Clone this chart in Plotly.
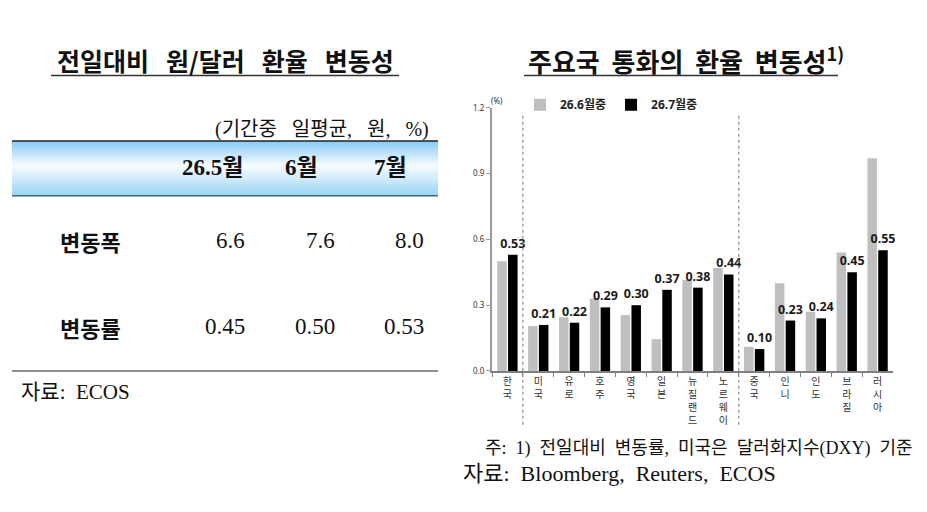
import plotly.graph_objects as go

W, H = 927, 512

# ---------------- data ----------------
countries = ["한국", "미국", "유로", "호주", "영국", "일본", "뉴질랜드", "노르웨이",
             "중국", "인니", "인도", "브라질", "러시아"]
jun_vals = [0.50, 0.205, 0.245, 0.33, 0.255, 0.145, 0.415, 0.47,
            0.11, 0.40, 0.27, 0.54, 0.97]
jul_vals = [0.53, 0.21, 0.22, 0.29, 0.30, 0.37, 0.38, 0.44,
            0.10, 0.23, 0.24, 0.45, 0.55]
series_names = ["26.6월중", "26.7월중"]
y_ticks = [0.0, 0.3, 0.6, 0.9, 1.2]
group_breaks = [0.5, 7.5]

table_title = "전일대비 원/달러 환율 변동성"
table_unit = "(기간중 일평균, 원, %)"
table_cols = ["26.5월", "6월", "7월"]
table_rows = ["변동폭", "변동률"]
row_width = ["6.6", "7.6", "8.0"]
row_rate = ["0.45", "0.50", "0.53"]
table_source = "자료: ECOS"

chart_title = "주요국 통화의 환율 변동성"
chart_note = "주: 1) 전일대비 변동률, 미국은 달러화지수(DXY) 기준"
chart_source = "자료: Bloomberg, Reuters, ECOS"

# ---------------- helpers ----------------
def X(px):
    return px / W

def Y(py):
    return 1 - py / H

NB = "\u00a0"

def wide(s, n=2):
    return s.replace(" ", NB * n)

SANS = "Noto Sans CJK KR"
SERIF = "Liberation Serif, Noto Sans CJK KR"
CHART = "Noto Sans, Noto Sans CJK KR"

def stack(label):
    return "<br>".join(list(label))

fig = go.Figure()
fig.add_trace(go.Bar(x=countries, y=jun_vals, name=series_names[0],
                     marker=dict(color="#bfbfbf", line=dict(width=0))))
fig.add_trace(go.Bar(x=countries, y=jul_vals, name=series_names[1],
                     marker=dict(color="#000000", line=dict(width=0)),
                     texttemplate="%{y:.2f}", textposition="outside", constraintext="none",
                     textfont=dict(family=CHART, size=12.5, color="#1a1a1a", weight="bold"),
                     cliponaxis=False))

shapes = []
annotations = []

def note(px, py, text, font, anchor="center"):
    annotations.append(dict(x=X(px), y=Y(py), xref="paper", yref="paper", text=text,
                            showarrow=False, font=font, xanchor=anchor, yanchor="middle"))

def hline(x0, x1, py, color="#222", width=1.0):
    shapes.append(dict(type="line", xref="paper", yref="paper", x0=X(x0), x1=X(x1),
                       y0=Y(py), y1=Y(py), line=dict(color=color, width=width)))

# ---- left table ----
note(225, 55, "<b>" + wide(table_title, 3) + "</b>", dict(family=SANS, size=25, color="#111"))
hline(51, 399, 71, "#333", 1.5)
note(431, 126, wide(table_unit, 3), dict(family=SERIF, size=20, color="#111"), "right")

# header gradient band
top_y, bot_y = 138, 194
n = 28
c_top = (135, 203, 245)
c_mid = (248, 252, 255)
c_bot = (150, 212, 247)
for i in range(n):
    t = (i + 0.5) / n
    if t < 0.45:
        u = t / 0.45
        c = [round(c_top[k] + (c_mid[k] - c_top[k]) * u) for k in range(3)]
    else:
        u = (t - 0.45) / 0.55
        c = [round(c_mid[k] + (c_bot[k] - c_mid[k]) * u) for k in range(3)]
    y0 = top_y + (bot_y - top_y) * i / n
    y1 = top_y + (bot_y - top_y) * (i + 1) / n + 0.6
    shapes.append(dict(type="rect", xref="paper", yref="paper", x0=X(12), x1=X(438),
                       y0=Y(y0), y1=Y(y1), fillcolor="rgb(%d,%d,%d)" % tuple(c),
                       line=dict(width=0), layer="below"))
hline(12, 438, 138, "#222", 1.5)
hline(12, 438, 194, "#333", 1.0)
hline(12, 438, 373, "#222", 1.0)

col_head_x = [212, 301, 390]
col_val_right = [247, 337, 426]
for cx, lab in zip(col_head_x, table_cols):
    note(cx, 165, "<b>" + lab + "</b>", dict(family=SERIF, size=23, color="#111"))
row_y = [240, 328]
for ry, rlab, vals in zip(row_y, table_rows, [row_width, row_rate]):
    note(90, ry, "<b>" + rlab + "</b>", dict(family=SANS, size=22, color="#111"))
    for rx, v in zip(col_val_right, vals):
        note(rx, ry, v, dict(family=SERIF, size=23, color="#111"), "right")
note(19, 394, wide(table_source), dict(family=SERIF, size=21, color="#111"), "left")

# ---- right chart text ----
note(686, 55, "<b>" + wide(chart_title, 2) + "<sup>1)</sup></b>", dict(family=SANS, size=26, color="#111"))
hline(524, 838, 71, "#333", 1.5)
note(489, 97, "(%)", dict(family=CHART, size=8, color="#333"), "left")
note(483, 452, wide(chart_note), dict(family=SERIF, size=18, color="#111"), "left")
note(461, 478, wide(chart_source, 2), dict(family=SERIF, size=22, color="#111"), "left")

# group separators
for b in group_breaks:
    shapes.append(dict(type="line", xref="x", yref="paper", x0=b, x1=b, y0=Y(428), y1=Y(110),
                       line=dict(color="#8c8c8c", width=1.2, dash="dot")))

fig.update_layout(
    width=W, height=H,
    margin=dict(l=0, r=0, t=0, b=0),
    paper_bgcolor="white", plot_bgcolor="white",
    barmode="group", bargap=0.3, bargroupgap=0.12,
    showlegend=True,
    legend=dict(orientation="h", x=X(520), y=Y(86), xanchor="left", yanchor="top",
                font=dict(family=CHART, size=12, color="#222", weight="bold"),
                itemwidth=30, tracegroupgap=0, bgcolor="rgba(0,0,0,0)"),
    xaxis=dict(domain=[X(492), X(893)], range=[-0.5, len(countries) - 0.5],
               tickmode="array", tickvals=countries, ticktext=[stack(c) for c in countries],
               tickangle=0, tickfont=dict(family=SANS, size=10, color="#333"),
               showline=True, linecolor="#7f7f7f", linewidth=1.5,
               ticks="outside", tickson="boundaries", ticklen=4, tickcolor="#7f7f7f",
               showgrid=False, zeroline=False, fixedrange=True),
    yaxis=dict(domain=[Y(373), Y(104)], range=[0, 1.2],
               tickmode="array", tickvals=y_ticks, ticktext=["%.1f" % v for v in y_ticks],
               tickfont=dict(family=CHART, size=8, color="#333"),
               showline=True, linecolor="#9a9a9a", linewidth=2,
               ticks="outside", ticklen=4, tickcolor="#9a9a9a",
               showgrid=False, zeroline=False, fixedrange=True),
    shapes=shapes,
    annotations=annotations,
)

fig.write_html("out.html", config={"displayModeBar": False},
               post_script="document.body.style.margin='0';document.body.style.overflow='hidden';")
